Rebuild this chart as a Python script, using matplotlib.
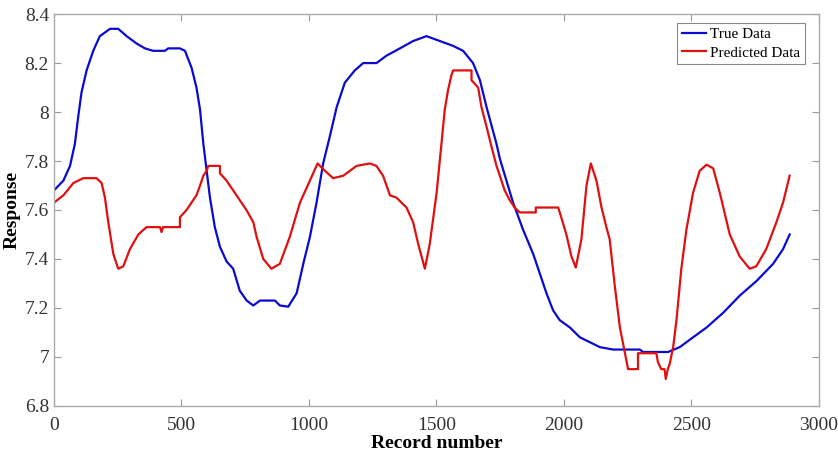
import matplotlib
matplotlib.use("Agg")
import matplotlib.pyplot as plt

# True data (record number, response)
true_x = [0, 37, 63, 82, 95, 108, 128, 154, 180, 220, 252, 285, 324, 357, 389, 435,
          448, 494, 514, 540, 559, 573, 586, 599, 612, 631, 651, 677, 703, 729, 756,
          782, 808, 867, 886, 919, 952, 978, 1004, 1030, 1056, 1082, 1109, 1141, 1180,
          1213, 1265, 1304, 1357, 1409, 1461, 1514, 1566, 1605, 1644, 1671, 1697, 1736,
          1749, 1801, 1840, 1880, 1906, 1932, 1958, 1984, 2024, 2063, 2102, 2141, 2193,
          2298, 2311, 2409, 2455, 2507, 2560, 2625, 2690, 2756, 2821, 2860, 2886]
true_y = [7.68, 7.72, 7.78, 7.87, 7.98, 8.08, 8.17, 8.25, 8.31, 8.34, 8.34, 8.31, 8.28,
          8.26, 8.25, 8.25, 8.26, 8.26, 8.25, 8.18, 8.10, 8.01, 7.87, 7.76, 7.65, 7.53,
          7.45, 7.39, 7.36, 7.27, 7.23, 7.21, 7.23, 7.23, 7.21, 7.205, 7.26, 7.38, 7.49,
          7.63, 7.79, 7.90, 8.02, 8.12, 8.17, 8.20, 8.20, 8.23, 8.26, 8.29, 8.31, 8.29,
          8.27, 8.25, 8.20, 8.13, 8.02, 7.87, 7.81, 7.63, 7.52, 7.42, 7.34, 7.26, 7.19,
          7.15, 7.12, 7.08, 7.06, 7.04, 7.03, 7.03, 7.02, 7.02, 7.04, 7.08, 7.12, 7.18,
          7.25, 7.31, 7.38, 7.44, 7.50]

# Predicted data (record number, response)
pred_x = [0, 37, 76, 115, 167, 187, 200, 213, 233, 252, 272, 298, 331, 363, 416, 422,
          428, 465, 465, 494, 494, 520, 546, 559, 573, 586, 599, 605, 651, 651, 677,
          703, 729, 755, 782, 795, 821, 853, 886, 925, 965, 1004, 1034, 1063, 1095,
          1135, 1187, 1239, 1265, 1291, 1318, 1344, 1383, 1409, 1429, 1455, 1474, 1501,
          1520, 1533, 1546, 1559, 1566, 1638, 1638, 1664, 1677, 1697, 1716, 1736, 1749,
          1768, 1788, 1807, 1827, 1890, 1890, 1978, 1990, 2010, 2030, 2047, 2069, 2089,
          2106, 2128, 2148, 2167, 2180, 2200, 2220, 2239, 2252, 2291, 2291, 2304, 2363,
          2369, 2382, 2395, 2400, 2408, 2415, 2429, 2442, 2461, 2481, 2507, 2533, 2560,
          2586, 2612, 2651, 2690, 2729, 2755, 2794, 2834, 2860, 2886]
pred_y = [7.63, 7.66, 7.71, 7.73, 7.73, 7.71, 7.65, 7.55, 7.42, 7.36, 7.37, 7.44, 7.50,
          7.53, 7.53, 7.51, 7.53, 7.53, 7.53, 7.53, 7.57, 7.60, 7.64, 7.66, 7.70, 7.74,
          7.76, 7.78, 7.78, 7.75, 7.72, 7.68, 7.64, 7.60, 7.55, 7.49, 7.40, 7.36, 7.38,
          7.49, 7.63, 7.72, 7.79, 7.76, 7.73, 7.74, 7.78, 7.79, 7.78, 7.74, 7.66, 7.65,
          7.61, 7.55, 7.46, 7.36, 7.46, 7.67, 7.87, 8.01, 8.09, 8.15, 8.17, 8.17, 8.13,
          8.10, 8.02, 7.94, 7.86, 7.78, 7.74, 7.68, 7.64, 7.61, 7.59, 7.59, 7.61, 7.61,
          7.57, 7.50, 7.41, 7.365, 7.48, 7.70, 7.79, 7.72, 7.61, 7.53, 7.48, 7.29, 7.12,
          7.02, 6.95, 6.95, 7.015, 7.015, 7.015, 6.98, 6.95, 6.95, 6.91, 6.95, 6.97,
          7.04, 7.15, 7.36, 7.52, 7.67, 7.76, 7.785, 7.77, 7.67, 7.50, 7.41, 7.36, 7.37,
          7.44, 7.55, 7.63, 7.74]

x_ticks = [0, 500, 1000, 1500, 2000, 2500, 3000]
y_ticks = [6.8, 7.0, 7.2, 7.4, 7.6, 7.8, 8.0, 8.2, 8.4]
y_labels = ["6.8", "7", "7.2", "7.4", "7.6", "7.8", "8", "8.2", "8.4"]

plt.rcParams["font.family"] = ["Liberation Serif", "DejaVu Serif"]

fig = plt.figure(figsize=(8.38, 4.55), dpi=100)
ax = fig.add_axes([0.0644, 0.108, 0.9126, 0.861])

ax.plot(true_x, true_y, color="#0a0ad0", lw=1.6, label="True Data")
ax.plot(pred_x, pred_y, color="#e01010", lw=1.6, label="Predicted Data")

ax.set_xlim(0, 3000)
ax.set_ylim(6.8, 8.4)
ax.set_xticks(x_ticks)
ax.set_yticks(y_ticks, y_labels)
ax.tick_params(direction="in", top=True, right=True, length=5, color="#999999",
               labelsize=14, labelcolor="#333333")
ax.tick_params(axis="x", pad=8)
for s in ax.spines.values():
    s.set_color("#aaaaaa")
    s.set_linewidth(1.0)

ax.set_xlabel("Record number", fontsize=14, fontweight="bold", labelpad=1)
ax.set_ylabel("Response", fontsize=14, fontweight="bold", labelpad=3)

leg = ax.legend(loc="upper right", bbox_to_anchor=(0.982, 0.977), fontsize=11,
                fancybox=False, framealpha=1, edgecolor="#888888",
                handlelength=1.6, handletextpad=0.25, borderpad=0.3,
                labelspacing=0.3, borderaxespad=0)
leg.get_frame().set_linewidth(0.8)

fig.savefig("out.png", dpi=100)
